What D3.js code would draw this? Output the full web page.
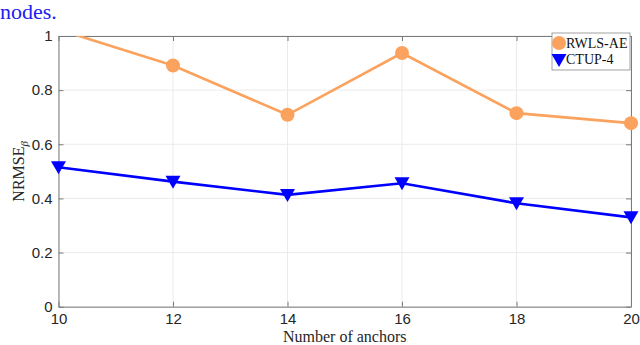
<!DOCTYPE html>
<html><head><meta charset="utf-8">
<script src="https://cdn.jsdelivr.net/npm/d3@7"></script>
<style>body{margin:0;background:#fff;} svg{display:block;}</style>
</head><body>
<svg id="c" width="640" height="345"></svg>
<script>
const anchors = [10, 12, 14, 16, 18, 20];
const rwlsAE = [1.024, 0.891, 0.709, 0.937, 0.715, 0.678];
const ctup4 = [0.515, 0.462, 0.413, 0.456, 0.382, 0.330];
const xTicks = [10, 12, 14, 16, 18, 20];
const yTicks = [0, 0.2, 0.4, 0.6, 0.8, 1];
const seriesNames = ["RWLS-AE", "CTUP-4"];

(function () {
const svg = d3.select("#c");
const L = 58.5, R = 631, T = 36, B = 306.7;
const x = d3.scaleLinear().domain([10, 20]).range([L, R]);
const y = d3.scaleLinear().domain([0, 1]).range([B, T]);

// caption fragment
svg.append("text").attr("x", 0).attr("y", 19).text("nodes.")
  .attr("font-family", "Liberation Serif, DejaVu Serif, serif").attr("font-size", 22).attr("fill", "#2020f0");

// grid
const g = svg.append("g");
g.selectAll(".vg").data(xTicks).enter().append("line")
  .attr("x1", d => x(d)).attr("x2", d => x(d)).attr("y1", T).attr("y2", B)
  .attr("stroke", "#ebebeb").attr("stroke-width", 1);
g.selectAll(".hg").data(yTicks).enter().append("line")
  .attr("y1", d => y(d)).attr("y2", d => y(d)).attr("x1", L).attr("x2", R)
  .attr("stroke", "#ebebeb").attr("stroke-width", 1);

// axes
const axCol = "#7a7a7a";
const axB = svg.append("g").attr("transform", `translate(0,${B})`)
  .call(d3.axisBottom(x).tickValues(xTicks).tickSizeInner(-5).tickSizeOuter(0).tickPadding(7));
const axT = svg.append("g").attr("transform", `translate(0,${T})`)
  .call(d3.axisTop(x).tickValues(xTicks).tickSizeInner(-5).tickSizeOuter(0).tickFormat(""));
const axL = svg.append("g").attr("transform", `translate(${L},0)`)
  .call(d3.axisLeft(y).tickValues(yTicks).tickSizeInner(-5).tickSizeOuter(0).tickPadding(6).tickFormat(d3.format("~g")));
const axR = svg.append("g").attr("transform", `translate(${R},0)`)
  .call(d3.axisRight(y).tickValues(yTicks).tickSizeInner(-5).tickSizeOuter(0).tickFormat(""));
[axB, axT, axL, axR].forEach(a => {
  a.select(".domain").attr("stroke", axCol).attr("stroke-width", 1);
  a.selectAll(".tick line").attr("stroke", axCol);
  a.selectAll("text").attr("font-family", "Liberation Sans, Arial, sans-serif")
    .attr("font-size", 15).attr("fill", "#262626");
});

// clip
svg.append("clipPath").attr("id", "clip").append("rect")
  .attr("x", L).attr("y", T).attr("width", R - L).attr("height", B - T);

const orange = "#fba35e", blue = "#0000ff";
const lineGen = vals => d3.line().x((d, i) => x(anchors[i])).y(d => y(d))(vals);
const plot = svg.append("g").attr("clip-path", "url(#clip)");
plot.append("path").attr("d", lineGen(rwlsAE)).attr("fill", "none").attr("stroke", orange).attr("stroke-width", 2.6);
plot.append("path").attr("d", lineGen(ctup4)).attr("fill", "none").attr("stroke", blue).attr("stroke-width", 2.6);

const circ = d3.symbol().type(d3.symbolCircle).size(Math.PI * 7 * 7);
const tri = "M-7.5,-6 L7.5,-6 L0,7 Z";
const oPts = rwlsAE.map((v, i) => [anchors[i], v]).filter(p => p[1] <= 1);
svg.selectAll(".o").data(oPts).enter().append("path")
  .attr("d", circ).attr("transform", p => `translate(${x(p[0])},${y(p[1])})`)
  .attr("fill", orange);
svg.selectAll(".b").data(ctup4).enter().append("path")
  .attr("d", tri).attr("transform", (d, i) => `translate(${x(anchors[i])},${y(d)})`)
  .attr("fill", blue);

// legend
const lg = svg.append("g");
lg.append("rect").attr("x", 552).attr("y", 33).attr("width", 78).attr("height", 37)
  .attr("fill", "#fff").attr("stroke", "#8a8a8a").attr("stroke-width", 0.8);
lg.append("path").attr("d", circ).attr("transform", "translate(559,43)").attr("fill", orange);
lg.append("path").attr("d", tri).attr("transform", "translate(559,60)").attr("fill", blue);
lg.selectAll(".lt").data(seriesNames).enter().append("text")
  .attr("x", 566).attr("y", (d, i) => 48 + i * 16).text(d => d)
  .attr("font-family", "Liberation Serif, DejaVu Serif, serif").attr("font-size", 14).attr("fill", "#111");

// axis titles
svg.append("text").attr("x", (L + R) / 2).attr("y", 342).attr("text-anchor", "middle")
  .text("Number of anchors").attr("font-family", "Liberation Serif, DejaVu Serif, serif")
  .attr("font-size", 16).attr("fill", "#262626");
const yt = svg.append("text").attr("transform", `translate(24,${(T + B) / 2}) rotate(-90)`)
  .attr("text-anchor", "middle").attr("font-family", "Liberation Serif, DejaVu Serif, serif")
  .attr("font-size", 16).attr("fill", "#262626");
yt.append("tspan").text("NRMSE");
yt.append("tspan").text("β").attr("font-size", 11).attr("font-style", "italic").attr("dy", 4);
})();
</script>
</body></html>
